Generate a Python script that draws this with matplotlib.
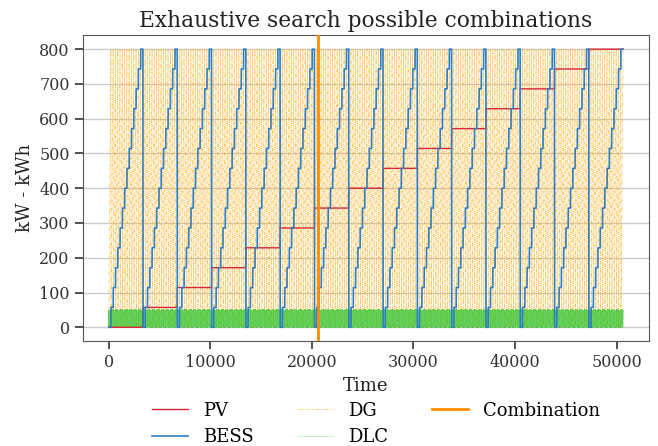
import itertools
import numpy as np
import matplotlib
matplotlib.use("Agg")
import matplotlib.pyplot as plt

# candidate sizes for every component (15 levels each)
pv_levels = [0, 57.1, 114.3, 171.4, 228.6, 285.7, 342.9, 400, 457.1, 514.3, 571.4, 628.6, 685.7, 742.9, 800]
bess_levels = [0, 57.1, 114.3, 171.4, 228.6, 285.7, 342.9, 400, 457.1, 514.3, 571.4, 628.6, 685.7, 742.9, 800]
dg_levels = [0, 57.1, 114.3, 171.4, 228.6, 285.7, 342.9, 400, 457.1, 514.3, 571.4, 628.6, 685.7, 742.9, 800]
dlc_levels = [0, 3.6, 7.1, 10.7, 14.3, 17.9, 21.4, 25, 28.6, 32.1, 35.7, 39.3, 42.9, 46.4, 50]
best_combination = 20600

# table of every combination, PV slowest, DLC fastest
combos = np.array(list(itertools.product(pv_levels, bess_levels, dg_levels, dlc_levels)))
t = np.arange(len(combos))

plt.rcParams['font.family'] = 'DejaVu Serif'
fig, ax = plt.subplots(figsize=(6.58, 4.46), dpi=100)
fig.subplots_adjust(left=0.126, right=0.986, top=0.921, bottom=0.235)

ax.plot(t, combos[:, 0], color='#d62839', lw=1.0, label='PV', zorder=3)
ax.plot(t, combos[:, 1], color='#2f7fc1', lw=1.2, label='BESS', zorder=4)
ax.plot(t, combos[:, 2], color='orange', lw=0.6, ls=(0, (4, 1.5, 1, 1.5, 1, 1.5)), alpha=0.65, label='DG', zorder=2)
ax.plot(t, combos[:, 3], color='#2fc42f', lw=0.5, ls=(0, (1, 1)), alpha=0.75, label='DLC', zorder=2)
ax.axvline(best_combination, color='darkorange', lw=2, label='Combination', zorder=5)

ax.set_title('Exhaustive search possible combinations', fontsize=15.7, color='#222222')
ax.set_xlabel('Time', fontsize=13, color='#222222')
ax.set_ylabel('kW - kWh', fontsize=13, color='#222222')
ax.set_yticks(np.arange(0, 801, 100))
ax.grid(axis='y', color='#cccccc', lw=1)
ax.set_axisbelow(True)
for s in ax.spines.values():
    s.set_color('#555555')
ax.tick_params(labelsize=11.5, colors='#333333', length=6, width=1.2)

ax.legend(loc='upper center', bbox_to_anchor=(0.518, -0.145), ncol=3, frameon=False,
          fontsize=13, handlelength=2.0, columnspacing=2.45, handletextpad=0.8, labelspacing=0.45)

fig.savefig('out.png')
